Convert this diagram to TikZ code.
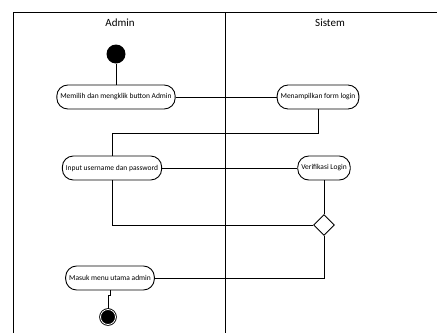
\documentclass[tikz,border=0pt]{standalone}
\usepackage{fontspec}
\setmainfont{Carlito}
\usetikzlibrary{shapes.geometric}

\begin{document}
\begin{tikzpicture}[-,x=1pt,y=-1pt,line width=0.9pt,
                    act node/.style={rectangle,rounded corners=11pt,draw,minimum height=24pt,inner xsep=3.5pt,font=\fontsize{7.5}{8}\selectfont},
                    lane title/.style={font=\fontsize{11}{12}\selectfont}]
  \useasboundingbox (0,0) rectangle (437,333);

  % swimlanes
  \draw (13,333) -- (13,12) -- (437,12);
  \draw (225,12) -- (225,333);
  \node[lane title] (admin) at (120,23) {Admin};
  \node[lane title] (sistem) at (330,23) {Sistem};

  \node[circle,fill=black,inner sep=0,minimum size=19pt] (start) at (116,54) {};
  \node[act node] (1) at (116,97) {Memilih dan mengklik button Admin};
  \node[act node] (2) at (318,97) {Menampilkan form login};
  \node[act node] (3) at (112,168) {Input username dan password};
  \node[act node] (4) at (324,168) {Verifikasi Login};
  \node[diamond,draw,fill=white,inner sep=0,minimum size=21pt] (d) at (324,225) {};
  \node[act node] (5) at (110,278) {Masuk menu utama admin};
  \node[circle,draw,fill=black,double=white,double distance=0.8pt,inner sep=0,minimum size=15pt] (end) at (108,317) {};

  \coordinate (k1) at (0,133);
  \path
    (start) edge (1)
    (1) edge (2)
    (3) edge (4)
    (4) edge (d);
  \draw (2.south) |- (3.north |- k1) -- (3.north);
  \draw (3.south) |- (d.west);
  \draw (d.south) |- (5.east);
  \draw (5.south) -- ++(0,5) -| (end.north);
\end{tikzpicture}
\end{document}
